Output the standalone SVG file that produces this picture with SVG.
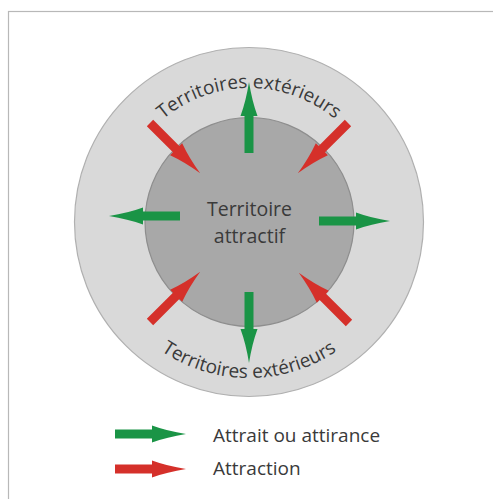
<svg xmlns="http://www.w3.org/2000/svg" xmlns:xlink="http://www.w3.org/1999/xlink" width="493" height="499" viewBox="0 0 493 499">
  <style>
    .lbl { font-family: "Open Sans", "Noto Sans", "Liberation Sans", sans-serif; fill: #3a3a3a; }
    .green { fill: #1a9446; }
    .red { fill: #d5302a; }
  </style>
  <defs>
    <path id="arrow" d="M0,-4.5 H37 V-8.5 Q52,-3 71,0 Q52,3 37,8.5 V4.5 H0 Z"/>
    <path id="arcTop" d="M115,222 A134,134 0 0 1 383,222"/>
    <path id="arcBot" d="M93,222 A156,156 0 0 0 405,222"/>
  </defs>
  <rect x="0" y="0" width="493" height="499" fill="#ffffff"/>
  <rect x="8.5" y="11.5" width="500" height="500" fill="#ffffff" stroke="#b8b8b8" stroke-width="1.2"/>

  <g id="outer">
    <circle cx="249" cy="222" r="174.5" fill="#d9d9d9" stroke="#b0b0b0" stroke-width="1.2"/>
    <text class="lbl" font-size="19"><textPath href="#arcTop" startOffset="50%" text-anchor="middle">Territoires extérieurs</textPath></text>
    <text class="lbl" font-size="19"><textPath href="#arcBot" startOffset="50%" text-anchor="middle">Territoires extérieurs</textPath></text>
  </g>

  <g id="inner">
    <circle cx="249.5" cy="222" r="104.5" fill="#a8a8a8" stroke="#8e8e8e" stroke-width="1.2"/>
    <text class="lbl" font-size="19.5" x="249.5" y="216" text-anchor="middle">Territoire</text>
    <text class="lbl" font-size="19.5" x="249.5" y="243" text-anchor="middle">attractif</text>
  </g>

  <g id="connectors">
    <use href="#arrow" class="green" transform="translate(249,153) rotate(-90)"/>
    <use href="#arrow" class="green" transform="translate(249,292) rotate(90)"/>
    <use href="#arrow" class="green" transform="translate(180,216) rotate(180)"/>
    <use href="#arrow" class="green" transform="translate(319,221)"/>
    <use href="#arrow" class="red" transform="translate(150,123) rotate(45)"/>
    <use href="#arrow" class="red" transform="translate(348,123) rotate(135)"/>
    <use href="#arrow" class="red" transform="translate(150,322) rotate(-45)"/>
    <use href="#arrow" class="red" transform="translate(349,323) rotate(-135)"/>
  </g>

  <g id="legend">
    <use href="#arrow" class="green" transform="translate(115,434)"/>
    <text class="lbl" font-size="19" x="213" y="442">Attrait ou attirance</text>
    <use href="#arrow" class="red" transform="translate(115,469)"/>
    <text class="lbl" font-size="19" x="213" y="475">Attraction</text>
  </g>
</svg>
